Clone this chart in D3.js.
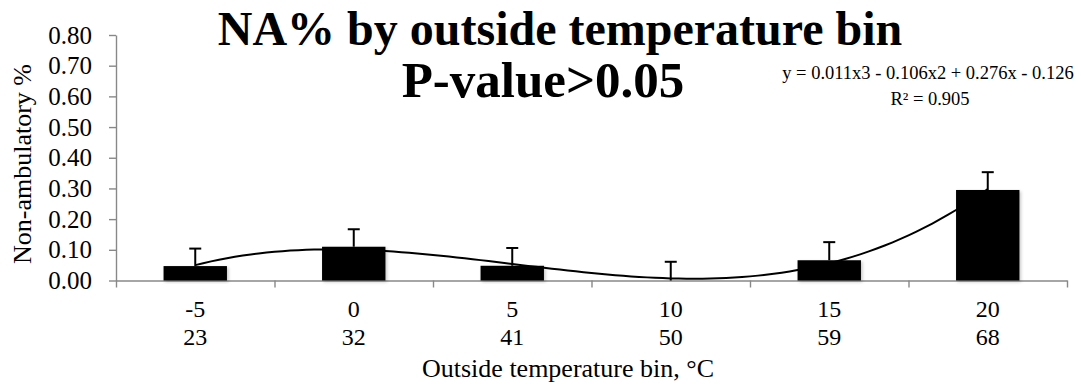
<!DOCTYPE html>
<html>
<head>
<meta charset="utf-8">
<script src="https://cdn.jsdelivr.net/npm/d3@7"></script>
<style>
  body { margin: 0; background: #fff; }
  svg { display: block; }
  text { font-family: "Liberation Serif", "Times New Roman", serif; fill: #000; }
</style>
</head>
<body>
<svg id="chart" width="1081" height="385"></svg>
<script>
// Non-ambulatory share per outside temperature bin
const binsC = ["-5", "0", "5", "10", "15", "20"];
const binsF = ["23", "32", "41", "50", "59", "68"];
const naPct = [0.047, 0.110, 0.048, 0.000, 0.066, 0.295];
const naErr = [0.057, 0.057, 0.058, 0.061, 0.059, 0.058];
const yTicks = [0, 0.1, 0.2, 0.3, 0.4, 0.5, 0.6, 0.7, 0.8];
const titleLines = ["NA% by outside temperature bin", "P-value>0.05"];
const trendLabel = ["y = 0.011x3 - 0.106x2 + 0.276x - 0.126", "R\u00B2 = 0.905"];
const yTitle = "Non-ambulatory %";
const xTitle = "Outside temperature bin, \u00B0C";

const svg = d3.select("#chart");
const plotLeft = 116, plotRight = 1067, plotTop = 35, plotBase = 280.5;
const axisColor = "#888";

const defs = svg.append("defs");
const f = defs.append("filter").attr("id", "barShadow")
  .attr("x", "-10%").attr("y", "-10%").attr("width", "130%").attr("height", "130%");
f.append("feDropShadow").attr("dx", 1.5).attr("dy", 1.5).attr("stdDeviation", 1.6)
  .attr("flood-color", "#000").attr("flood-opacity", 0.22);

const y = d3.scaleLinear().domain([0, 0.8]).range([plotBase, plotTop]);
const x = d3.scaleBand().domain(binsC).range([plotLeft, plotRight]).paddingInner(0.6).paddingOuter(0.3);
const xEdge = d3.scaleLinear().domain([0, binsC.length]).range([plotLeft, plotRight]);
const cx = d => x(d) + x.bandwidth() / 2;

// y axis
const gy = svg.append("g").attr("transform", `translate(${plotLeft},0)`)
  .call(d3.axisLeft(y).tickValues(yTicks).tickFormat(d3.format(".2f"))
    .tickSize(7).tickSizeOuter(0).tickPadding(17));
gy.selectAll("path,line").attr("stroke", axisColor).attr("stroke-width", 1.4);
gy.selectAll("text").attr("font-size", 25).attr("font-family", "Liberation Serif").attr("fill", "#000");

// x axis with ticks on bin boundaries
const gx = svg.append("g").attr("transform", `translate(0,${plotBase})`)
  .call(d3.axisBottom(xEdge).tickValues(d3.range(binsC.length + 1)).tickFormat("")
    .tickSize(7).tickSizeOuter(0));
gx.selectAll("path,line").attr("stroke", axisColor).attr("stroke-width", 1.4);

// bars
svg.append("g").selectAll("rect").data(binsC).join("rect")
  .attr("x", d => x(d)).attr("width", x.bandwidth())
  .attr("y", (d, i) => y(naPct[i]))
  .attr("height", (d, i) => y(0) - y(naPct[i]))
  .attr("fill", "#000").attr("filter", "url(#barShadow)");

// cubic least-squares trendline over bin index 1..n
function polyFit(xs, ys, deg) {
  const m = deg + 1;
  const A = Array.from({ length: m }, () => new Array(m + 1).fill(0));
  xs.forEach((xv, k) => {
    for (let r = 0; r < m; r++) {
      for (let c = 0; c < m; c++) A[r][c] += Math.pow(xv, r + c);
      A[r][m] += ys[k] * Math.pow(xv, r);
    }
  });
  for (let p = 0; p < m; p++) {
    let piv = p;
    for (let r = p + 1; r < m; r++) if (Math.abs(A[r][p]) > Math.abs(A[piv][p])) piv = r;
    [A[p], A[piv]] = [A[piv], A[p]];
    for (let r = 0; r < m; r++) {
      if (r === p) continue;
      const fct = A[r][p] / A[p][p];
      for (let c = p; c <= m; c++) A[r][c] -= fct * A[p][c];
    }
  }
  return A.map((row, i) => row[m] / row[i]);
}
const idx = binsC.map((d, i) => i + 1);
const coef = polyFit(idx, naPct, 3);
const poly = t => coef.reduce((s, c, i) => s + c * Math.pow(t, i), 0);
const xi = d3.scaleLinear().domain([1, binsC.length]).range([cx(binsC[0]), cx(binsC[binsC.length - 1])]);
const samples = d3.range(1, binsC.length + 0.0001, 0.05);
svg.append("path").datum(samples)
  .attr("d", d3.line().x(t => xi(t)).y(t => y(poly(t))))
  .attr("fill", "none").attr("stroke", "#000").attr("stroke-width", 2);

// error bars (upper only)
const eg = svg.append("g").attr("stroke", "#000").attr("stroke-width", 2);
binsC.forEach((d, i) => {
  const xc = cx(d), y0 = y(naPct[i]), y1 = y(naPct[i] + naErr[i]);
  eg.append("line").attr("x1", xc).attr("x2", xc).attr("y1", y0).attr("y2", y1);
  eg.append("line").attr("x1", xc - 6).attr("x2", xc + 6).attr("y1", y1).attr("y2", y1);
});

// category labels: °C and °F rows
const lab = svg.append("g").attr("font-size", 24).attr("text-anchor", "middle");
lab.selectAll("text.c").data(binsC).join("text").attr("class", "c")
  .attr("x", d => cx(d)).attr("y", 317).text(d => d);
lab.selectAll("text.f").data(binsF).join("text").attr("class", "f")
  .attr("x", (d, i) => cx(binsC[i])).attr("y", 345).text(d => d);

// axis titles
svg.append("text").attr("x", 568).attr("y", 377).attr("text-anchor", "middle")
  .attr("font-size", 26).text(xTitle);
svg.append("text").attr("transform", "translate(31,164) rotate(-90)")
  .attr("text-anchor", "middle").attr("font-size", 26).text(yTitle);

// chart title
svg.append("text").attr("x", 560).attr("y", 45).attr("text-anchor", "middle")
  .attr("font-size", 48).attr("font-weight", "bold").text(titleLines[0]);
svg.append("text").attr("x", 543).attr("y", 97).attr("text-anchor", "middle")
  .attr("font-size", 51).attr("font-weight", "bold").text(titleLines[1]);

// trendline equation
svg.append("text").attr("x", 928).attr("y", 79).attr("text-anchor", "middle")
  .attr("font-size", 18.5).text(trendLabel[0]);
svg.append("text").attr("x", 930).attr("y", 105).attr("text-anchor", "middle")
  .attr("font-size", 18.5).text(trendLabel[1]);
</script>
</body>
</html>
